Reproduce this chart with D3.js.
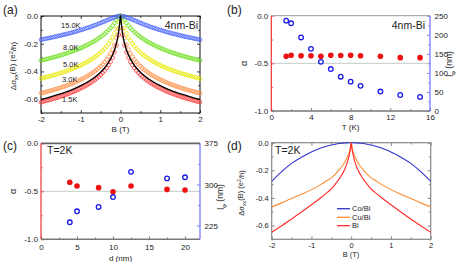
<!DOCTYPE html>
<html>
<head>
<meta charset="utf-8">
<script src="https://cdn.jsdelivr.net/npm/d3@7"></script>
<style>
  body { margin: 0; background: #fff; }
  svg text { font-family: "Liberation Sans", Arial, sans-serif; fill: #222; }
</style>
</head>
<body>
<div id="chart"></div>
<script>
// ---- panel (a): magnetoconductance of 4nm Bi at several temperatures (B >= 0, curves are symmetric)
var fieldB = [0, 0.05, 0.1, 0.15, 0.2, 0.25, 0.3, 0.35, 0.4, 0.45, 0.5, 0.55, 0.6, 0.65, 0.7, 0.75, 0.8, 0.85, 0.9, 0.95,
    1.0, 1.05, 1.1, 1.15, 1.2, 1.25, 1.3, 1.35, 1.4, 1.45, 1.5, 1.55, 1.6, 1.65, 1.7, 1.75, 1.8, 1.85, 1.9, 1.95, 2.0];
var sig15K = [0, -0.001, -0.004, -0.009, -0.014, -0.020, -0.026, -0.032, -0.038, -0.044, -0.050, -0.056, -0.062, -0.067, -0.072, -0.078, -0.083, -0.087, -0.092, -0.097,
    -0.101, -0.105, -0.110, -0.114, -0.118, -0.122, -0.126, -0.129, -0.133, -0.136, -0.140, -0.143, -0.147, -0.150, -0.153, -0.156, -0.159, -0.162, -0.165, -0.168, -0.171];
var sig8K = [0, -0.011, -0.030, -0.050, -0.069, -0.086, -0.101, -0.115, -0.128, -0.140, -0.151, -0.161, -0.171, -0.180, -0.189, -0.196, -0.204, -0.211, -0.218, -0.225,
    -0.231, -0.237, -0.243, -0.249, -0.254, -0.259, -0.264, -0.269, -0.274, -0.278, -0.283, -0.287, -0.291, -0.295, -0.299, -0.303, -0.307, -0.310, -0.314, -0.317, -0.321];
var sig5K = [0, -0.042, -0.088, -0.125, -0.154, -0.179, -0.200, -0.219, -0.235, -0.250, -0.263, -0.276, -0.287, -0.297, -0.307, -0.316, -0.325, -0.333, -0.341, -0.348,
    -0.355, -0.362, -0.368, -0.374, -0.380, -0.386, -0.391, -0.396, -0.401, -0.406, -0.411, -0.415, -0.420, -0.424, -0.428, -0.433, -0.436, -0.440, -0.444, -0.448, -0.451];
var sig3K = [0, -0.093, -0.160, -0.207, -0.242, -0.270, -0.294, -0.315, -0.332, -0.348, -0.363, -0.376, -0.388, -0.399, -0.409, -0.419, -0.428, -0.436, -0.444, -0.452,
    -0.459, -0.466, -0.472, -0.479, -0.485, -0.491, -0.496, -0.501, -0.507, -0.512, -0.516, -0.521, -0.526, -0.530, -0.534, -0.538, -0.542, -0.546, -0.550, -0.554, -0.557];
var sig1p5K = [0, -0.135, -0.212, -0.262, -0.300, -0.330, -0.354, -0.375, -0.394, -0.410, -0.425, -0.438, -0.450, -0.462, -0.472, -0.482, -0.491, -0.499, -0.508, -0.515,
    -0.522, -0.529, -0.536, -0.542, -0.548, -0.554, -0.560, -0.565, -0.570, -0.576, -0.580, -0.585, -0.590, -0.594, -0.598, -0.602, -0.607, -0.610, -0.614, -0.618, -0.622];
var tempLabels = ["1.5K", "3.0K", "5.0K", "8.0K", "15.0K"];
// HLN fit of the 1.5K curve
var fitB = [0, 0.005, 0.01, 0.02, 0.03, 0.05, 0.075, 0.1, 0.15, 0.2, 0.3, 0.4, 0.5, 0.6, 0.8, 1.0, 1.2, 1.4, 1.6, 1.8, 2.0];
var fitSig = [0, -0.007, -0.020, -0.050, -0.077, -0.121, -0.163, -0.195, -0.245, -0.281, -0.335, -0.375, -0.405, -0.431, -0.471, -0.503, -0.529, -0.551, -0.570, -0.587, -0.602];

// ---- panel (b): alpha and l_phi vs temperature
var tempT = [1.5, 2, 3, 4, 5, 6, 7, 8, 9, 11, 13, 15];
var alphaT = [-0.425, -0.415, -0.42, -0.42, -0.425, -0.415, -0.418, -0.415, -0.42, -0.425, -0.44, -0.44];
var lphiT = [237, 230, 193, 163, 129, 110, 90, 77, 66, 51, 42, 37];

// ---- panel (c): alpha and l_phi vs thickness at 2K
var thickD = [4, 5, 8, 10, 12.5, 17.5, 20];
var alphaD = [-0.406, -0.445, -0.462, -0.504, -0.445, -0.48, -0.486];
var lphiD = [231, 251, 259, 277, 323, 311, 313];

// ---- panel (d): magnetoconductance at 2K for three stacks (B >= 0)
var fieldD = [0, 0.02, 0.05, 0.1, 0.15, 0.2, 0.25, 0.3, 0.4, 0.5, 0.6, 0.75, 1.0, 1.25, 1.5, 1.75, 2.0];
var sigCoBi = [0, 0, 0, -0.001, -0.002, -0.003, -0.004, -0.006, -0.011, -0.017, -0.024, -0.037, -0.068, -0.105, -0.150, -0.210, -0.280];
var sigCuBi = [0, -0.035, -0.070, -0.105, -0.135, -0.158, -0.178, -0.195, -0.227, -0.255, -0.272, -0.300, -0.340, -0.373, -0.405, -0.436, -0.465];
var sigBi = [0, -0.045, -0.090, -0.145, -0.185, -0.215, -0.240, -0.262, -0.300, -0.335, -0.360, -0.395, -0.450, -0.502, -0.553, -0.602, -0.650];
var stackNames = ["Co/Bi", "Cu/Bi", "Bi"];

var svg = d3.select("#chart").append("svg")
    .attr("width", 463)
    .attr("height", 262);

function mirror(bs, vs) {
    var pts = [];
    for (var i = bs.length - 1; i > 0; i--) pts.push([-bs[i], vs[i]]);
    for (var j = 0; j < bs.length; j++) pts.push([bs[j], vs[j]]);
    return pts;
}

// inward ticks (major + minor) on one side, optional labels
function side(g, axisFn, scale, pos, major, minor, color, fmt, showLabels, pad) {
    var a = axisFn(scale).tickValues(major).tickSize(-3).tickPadding(pad || 3)
        .tickFormat(showLabels ? fmt : "");
    var ga = g.append("g").attr("transform", pos).call(a);
    ga.select(".domain").remove();
    ga.selectAll("line").attr("stroke", color).attr("stroke-width", 0.8);
    ga.selectAll("text").attr("fill", "#222").style("font-size", "8px");
    if (minor) {
        var gm = g.append("g").attr("transform", pos)
            .call(axisFn(scale).tickValues(minor).tickSize(-1.8).tickFormat(""));
        gm.select(".domain").remove();
        gm.selectAll("line").attr("stroke", color).attr("stroke-width", 0.8);
    }
    return ga;
}

function borderLine(g, x1, y1, x2, y2, color, w) {
    g.append("line").attr("x1", x1).attr("y1", y1).attr("x2", x2).attr("y2", y2)
        .attr("stroke", color).attr("stroke-width", w);
}

var f1 = function (d) { return d.toFixed(1); };
var f0 = function (d) { return String(d); };

// ===================== (a)
var xA = d3.scaleLinear().domain([-2, 2]).range([41, 200]);
var yA = d3.scaleLinear().domain([-0.7, 0]).range([113, 16]);
var gA = svg.append("g");
side(gA, d3.axisBottom, xA, "translate(0,113)", [-2, -1, 0, 1, 2], [-1.5, -0.5, 0.5, 1.5], "#111", f0, true);
side(gA, d3.axisTop, xA, "translate(0,16)", [-2, -1, 0, 1, 2], [-1.5, -0.5, 0.5, 1.5], "#111", f0, false);
side(gA, d3.axisLeft, yA, "translate(41,0)", [0, -0.2, -0.4, -0.6], [-0.1, -0.3, -0.5, -0.7], "#111", f1, true);
side(gA, d3.axisRight, yA, "translate(200,0)", [0, -0.2, -0.4, -0.6], [-0.1, -0.3, -0.5, -0.7], "#111", f1, false);
gA.append("rect").attr("x", 41).attr("y", 16).attr("width", 159).attr("height", 97)
    .attr("fill", "none").attr("stroke", "#111").attr("stroke-width", 1);

var curvesA = [
    {v: sig1p5K, c: "#ff3333"},
    {v: sig3K, c: "#ff8a3d"},
    {v: sig5K, c: "#e8e800"},
    {v: sig8K, c: "#66dd11"},
    {v: sig15K, c: "#3d5cff"}
];
curvesA.forEach(function (cv) {
    gA.append("g").selectAll("circle")
        .data(mirror(fieldB, cv.v))
        .enter()
        .append("circle")
        .attr("cx", function (d) { return xA(d[0]); })
        .attr("cy", function (d) { return yA(d[1]); })
        .attr("r", 1.9)
        .attr("fill", "none")
        .attr("stroke", cv.c)
        .attr("stroke-width", 0.75);
});

var lineA = d3.line()
    .x(function (d) { return xA(d[0]); })
    .y(function (d) { return yA(d[1]); })
    .curve(d3.curveMonotoneX);
gA.append("path")
    .datum(mirror(fitB, fitSig))
    .attr("d", lineA)
    .attr("fill", "none")
    .attr("stroke", "#000")
    .attr("stroke-width", 1.3);

// temperature labels
var labelY = [98.7, 79, 64.5, 47.5, 25];
var labelX = [62, 62, 63, 63, 61];
tempLabels.forEach(function (t, i) {
    gA.append("text").attr("x", labelX[i]).attr("y", labelY[i] + 2.8)
        .style("font-size", "7.5px").attr("fill", "#222").text(t);
});
gA.append("text").attr("x", 198).attr("y", 29).attr("text-anchor", "end")
    .style("font-size", "10.5px").text("4nm-Bi");
gA.append("text").attr("x", 3).attr("y", 14).style("font-size", "12px").text("(a)");
gA.append("text").attr("x", 120.5).attr("y", 131.5).attr("text-anchor", "middle")
    .style("font-size", "8px").text("B (T)");

function sigmaLabel(g, x, y, size) {
    var t = g.append("text")
        .attr("transform", "translate(" + x + "," + y + ") rotate(-90)")
        .attr("text-anchor", "middle")
        .style("font-size", size + "px");
    t.append("tspan").text("\u0394\u03c3");
    t.append("tspan").attr("dy", "0.3em").style("font-size", (size * 0.7) + "px").text("xx");
    t.append("tspan").attr("dy", "-0.3em").text("(B)  (e");
    t.append("tspan").attr("dy", "-0.4em").style("font-size", (size * 0.7) + "px").text("2");
    t.append("tspan").attr("dy", "0.4em").text("/h)");
}
sigmaLabel(gA, 16, 66, 8);

// ===================== (b) and (c): dual axis plots
function dualPanel(o) {
    var g = svg.append("g");
    var x = d3.scaleLinear().domain(o.xDom).range([o.x0, o.x1]);
    var yl = d3.scaleLinear().domain([-1, 0]).range([o.y1, o.y0]);
    var yr = d3.scaleLinear().domain(o.rDom).range([o.y1, o.y0]);

    // alpha = -0.5 reference line
    g.append("line").attr("x1", o.x0).attr("x2", o.x1)
        .attr("y1", yl(-0.5)).attr("y2", yl(-0.5))
        .attr("stroke", "#c4ccc8").attr("stroke-width", 1);

    side(g, d3.axisBottom, x, "translate(0," + o.y1 + ")", o.xMajor, o.xMinor, "#666", f0, true, o.xPad);
    side(g, d3.axisLeft, yl, "translate(" + o.x0 + ",0)", [0, -0.5, -1], [-0.25, -0.75], "#ee3333", f1, true);
    side(g, d3.axisRight, yr, "translate(" + o.x1 + ",0)", o.rMajor, o.rMinor, "#6666ff", f0, true, 4.6);

    borderLine(g, o.x0, o.y0, o.x1, o.y0, o.topColor, o.topW);
    borderLine(g, o.x0, o.y1, o.x1, o.y1, "#777", 1.4);
    borderLine(g, o.x0, o.y0, o.x0, o.y1, "#ee3333", 1.2);
    borderLine(g, o.x1, o.y0, o.x1, o.y1, "#6f6fff", 1.2);

    g.append("g").selectAll("circle")
        .data(o.xs.map(function (d, i) { return [d, o.alpha[i]]; }))
        .enter().append("circle")
        .attr("cx", function (d) { return x(d[0]); })
        .attr("cy", function (d) { return yl(d[1]); })
        .attr("r", 2.8)
        .attr("fill", "#ee1111");

    g.append("g").selectAll("circle")
        .data(o.xs.map(function (d, i) { return [d, o.lphi[i]]; }))
        .enter().append("circle")
        .attr("cx", function (d) { return x(d[0]); })
        .attr("cy", function (d) { return yr(d[1]); })
        .attr("r", 2.3)
        .attr("fill", "none")
        .attr("stroke", "#1a1ae6")
        .attr("stroke-width", 1.3);

    g.append("text")
        .attr("transform", "translate(" + o.alphaX + "," + yl(-0.5) + ") rotate(-90)")
        .attr("text-anchor", "middle").style("font-size", "9px").text("\u03b1");

    var t = g.append("text")
        .attr("transform", "translate(" + o.lphiX + "," + o.lphiY + ") rotate(-90)")
        .attr("text-anchor", "middle").style("font-size", "8.5px");
    t.append("tspan").text("l");
    t.append("tspan").attr("dy", "0.3em").style("font-size", "6px").text("\u03c6");
    t.append("tspan").attr("dy", "-0.3em").text(" (nm)");

    g.append("text").attr("x", (o.x0 + o.x1) / 2).attr("y", o.titleY)
        .attr("text-anchor", "middle").style("font-size", "8px").text(o.xTitle);
    g.append("text").attr("x", o.tagX).attr("y", o.tagY).style("font-size", "12px").text(o.tag);
    return g;
}

var gB = dualPanel({
    x0: 271.3, x1: 430, y0: 15.7, y1: 111,
    xDom: [0, 16], xMajor: [0, 4, 8, 12, 16], xMinor: [2, 6, 10, 14], xPad: 3,
    rDom: [0, 250], rMajor: [0, 50, 100, 150, 200, 250], rMinor: [25, 75, 125, 175, 225],
    xs: tempT, alpha: alphaT, lphi: lphiT,
    topColor: "#999", topW: 1,
    alphaX: 247, lphiX: 453, lphiY: 64,
    xTitle: "T (K)", titleY: 129.5, tag: "(b)", tagX: 227, tagY: 14
});
gB.append("text").attr("x", 425).attr("y", 29).attr("text-anchor", "end")
    .style("font-size", "10.5px").text("4nm-Bi");

var gC = dualPanel({
    x0: 41, x1: 200, y0: 143.3, y1: 239.3,
    xDom: [0, 22.08], xMajor: [0, 5, 10, 15, 20], xMinor: [2.5, 7.5, 12.5, 17.5], xPad: 5,
    rDom: [200, 375], rMajor: [225, 300, 375], rMinor: [262.5, 337.5],
    xs: thickD, alpha: alphaD, lphi: lphiD,
    topColor: "#666", topW: 1.8,
    alphaX: 16, lphiX: 224, lphiY: 197,
    xTitle: "d  (nm)", titleY: 260.5, tag: "(c)", tagX: 3, tagY: 150
});
gC.append("text").attr("x", 47).attr("y", 154)
    .style("font-size", "10.5px").text("T=2K");

// ===================== (d)
var xD = d3.scaleLinear().domain([-2, 2]).range([271.7, 430.7]);
var yD = d3.scaleLinear().domain([-0.7, 0]).range([239.3, 142.7]);
var gD = svg.append("g");
function sideD(axisFn, scale, pos, major, minor, fmt, show) {
    var ga = side(gD, axisFn, scale, pos, major, minor, "#666", fmt, show);
    ga.selectAll("text").style("font-size", "7.5px");
    return ga;
}
sideD(d3.axisBottom, xD, "translate(0,239.3)", [-2, -1, 0, 1, 2], [-1.5, -0.5, 0.5, 1.5], f0, true);
sideD(d3.axisTop, xD, "translate(0,142.7)", [-2, -1, 0, 1, 2], [-1.5, -0.5, 0.5, 1.5], f0, false);
sideD(d3.axisLeft, yD, "translate(271.7,0)", [0, -0.2, -0.4, -0.6], [-0.1, -0.3, -0.5, -0.7], f1, true);
sideD(d3.axisRight, yD, "translate(430.7,0)", [0, -0.2, -0.4, -0.6], [-0.1, -0.3, -0.5, -0.7], f1, false);
gD.append("rect").attr("x", 271.7).attr("y", 142.7).attr("width", 159).attr("height", 96.6)
    .attr("fill", "none").attr("stroke", "#888").attr("stroke-width", 1.2);

var curvesD = [
    {v: sigCoBi, c: "#3333cc"},
    {v: sigCuBi, c: "#ff8c33"},
    {v: sigBi, c: "#ff2a2a"}
];
var lineD = d3.line()
    .x(function (d) { return xD(d[0]); })
    .y(function (d) { return yD(d[1]); })
    .curve(d3.curveMonotoneX);
curvesD.forEach(function (cv) {
    gD.append("path")
        .datum(mirror(fieldD, cv.v))
        .attr("d", lineD)
        .attr("fill", "none")
        .attr("stroke", cv.c)
        .attr("stroke-width", 1.1);
});

var legY = [208.7, 217.3, 225.7];
stackNames.forEach(function (n, i) {
    borderLine(gD, 337, legY[i], 350, legY[i], curvesD[i].c, 1.3);
    gD.append("text").attr("x", 352).attr("y", legY[i] + 2.7)
        .style("font-size", "7.5px").attr("fill", "#333").text(n);
});
gD.append("text").attr("x", 275).attr("y", 154)
    .style("font-size", "10.5px").text("T=2K");
gD.append("text").attr("x", 227).attr("y", 150).style("font-size", "12px").text("(d)");
gD.append("text").attr("x", 351).attr("y", 257).attr("text-anchor", "middle")
    .style("font-size", "7.5px").text("B (T)");
sigmaLabel(gD, 244, 193, 7.5);
</script>
</body>
</html>
